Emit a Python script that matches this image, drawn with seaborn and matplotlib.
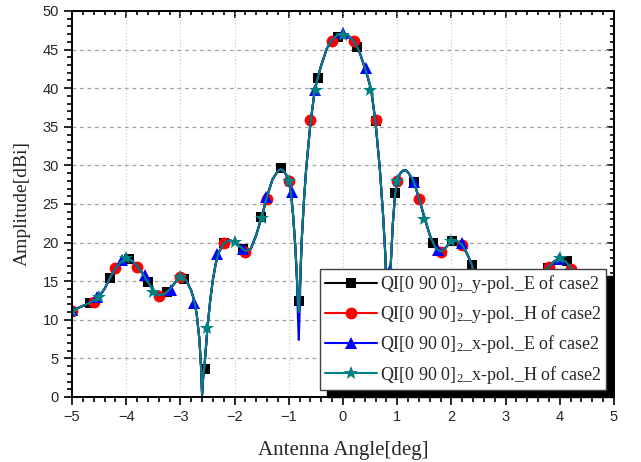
import numpy as np
import seaborn as sns
import matplotlib.pyplot as plt
from matplotlib.lines import Line2D
from matplotlib.ticker import MultipleLocator

sns.set_theme(style='white')
plt.rcParams['font.family'] = ['Liberation Sans', 'DejaVu Sans']
plt.rcParams['mathtext.default'] = 'regular'

# smooth pattern shared by the y-pol E, y-pol H and x-pol H curves
angle_line = [-5.0, -4.9, -4.8, -4.7, -4.6, -4.5, -4.4, -4.3, -4.2, -4.1, -4.0,
              -3.9, -3.8, -3.7, -3.6, -3.5, -3.4, -3.3, -3.2, -3.1, -3.0,
              -2.9, -2.8, -2.75, -2.7, -2.65, -2.62, -2.6, -2.58, -2.55, -2.5,
              -2.45, -2.4, -2.35, -2.3, -2.2, -2.1, -2.0, -1.9, -1.8, -1.7,
              -1.6, -1.5, -1.4, -1.3, -1.2, -1.15, -1.1, -1.05, -1.0, -0.96,
              -0.92, -0.88, -0.85, -0.83, -0.815, -0.8, -0.78, -0.76, -0.72, -0.68,
              -0.6, -0.52, -0.46, -0.4, -0.3, -0.2, -0.1, 0.0, 0.1, 0.2,
              0.3, 0.4, 0.45, 0.52, 0.6, 0.68, 0.74, 0.78, 0.81, 0.84,
              0.86, 0.88, 0.92, 0.96, 1.0, 1.05, 1.1, 1.15, 1.2, 1.3,
              1.4, 1.5, 1.6, 1.7, 1.8, 1.9, 2.0, 2.1, 2.2, 2.3,
              2.38, 2.45, 2.5, 2.55, 2.6, 2.62, 2.65, 2.7, 2.75, 2.8,
              2.9, 3.0, 3.1, 3.2, 3.3, 3.4, 3.5, 3.6, 3.7, 3.8,
              3.9, 4.0, 4.1, 4.2, 4.3, 4.4, 4.5, 4.6, 4.7, 4.8, 4.9, 5.0]
amp_line = [11.2, 11.5, 11.8, 12.1, 12.5, 13.0, 14.0, 15.4, 16.6, 17.5, 17.9,
            17.7, 17.0, 16.0, 14.9, 13.8, 13.2, 13.3, 13.9, 14.8, 15.5,
            15.2, 13.8, 12.6, 10.8, 7.5, 4.0, 0.3, 2.5, 4.5, 9.0,
            12.5, 15.2, 17.2, 18.6, 19.9, 20.3, 20.1, 19.5, 18.9, 19.2,
            21.0, 23.3, 26.0, 28.2, 29.3, 29.5, 29.3, 28.8, 28.0, 26.5,
            23.5, 19.5, 15.5, 12.0, 11.0, 13.0, 17.0, 20.5, 25.5, 29.5,
            35.5, 39.8, 41.5, 43.0, 45.1, 46.3, 46.9, 47.0, 46.8, 46.1,
            44.8, 42.7, 41.6, 39.8, 35.6, 29.5, 23.5, 18.5, 12.0, 3.0,
            10.0, 17.0, 22.5, 26.2, 28.0, 28.9, 29.3, 29.4, 29.1, 28.0,
            25.8, 23.3, 21.0, 19.4, 18.8, 19.4, 20.2, 20.2, 19.7, 18.4,
            17.1, 14.0, 10.5, 6.0, 0.5, 3.0, 7.0, 10.5, 12.5, 13.8,
            15.2, 15.5, 14.8, 13.9, 13.3, 13.2, 13.8, 14.9, 16.0, 16.9,
            17.6, 17.9, 17.6, 16.8, 15.6, 14.2, 13.0, 12.5, 12.1, 11.8, 11.5, 11.2]
# x-pol E has a deeper null near -0.8 deg
amp_line_xE = [11.2, 11.5, 11.8, 12.1, 12.5, 13.0, 14.0, 15.4, 16.6, 17.5, 17.9,
               17.7, 17.0, 16.0, 14.9, 13.8, 13.2, 13.3, 13.9, 14.8, 15.5,
               15.2, 13.8, 12.6, 10.8, 7.5, 4.0, 0.3, 2.5, 4.5, 9.0,
               12.5, 15.2, 17.2, 18.6, 19.9, 20.3, 20.1, 19.5, 18.9, 19.2,
               21.0, 23.3, 26.0, 28.2, 29.3, 29.5, 29.3, 28.8, 28.0, 26.5,
               23.5, 19.5, 15.0, 10.0, 7.4, 11.0, 16.5, 20.5, 25.5, 29.5,
               35.5, 39.8, 41.5, 43.0, 45.1, 46.3, 46.9, 47.0, 46.8, 46.1,
               44.8, 42.7, 41.6, 39.8, 35.6, 29.5, 23.5, 18.5, 12.0, 3.0,
               10.0, 17.0, 22.5, 26.2, 28.0, 28.9, 29.3, 29.4, 29.1, 28.0,
               25.8, 23.3, 21.0, 19.4, 18.8, 19.4, 20.2, 20.2, 19.7, 18.4,
               17.1, 14.0, 10.5, 6.0, 0.5, 3.0, 7.0, 10.5, 12.5, 13.8,
               15.2, 15.5, 14.8, 13.9, 13.3, 13.2, 13.8, 14.9, 16.0, 16.9,
               17.6, 17.9, 17.6, 16.8, 15.6, 14.2, 13.0, 12.5, 12.1, 11.8, 11.5, 11.2]

# marker samples of each series
yE_x = [-4.66, -4.30, -3.95, -3.60, -3.25, -2.93, -2.55, -2.20, -1.85, -1.51,
        -1.14, -0.81, -0.46, -0.09, 0.26, 0.60, 0.96, 1.31, 1.66, 2.02,
        2.38, 2.73, 3.08, 3.43, 3.78, 4.13, 4.48, 4.83]
yE_y = [12.2, 15.4, 17.9, 14.9, 13.6, 15.3, 3.6, 19.9, 19.2, 23.3,
        29.6, 12.4, 41.3, 46.6, 45.3, 35.8, 26.4, 27.9, 19.9, 20.2,
        17.1, 12.0, 15.3, 13.3, 16.7, 17.6, 13.0, 11.7]

yH_x = [-5.0, -4.6, -4.2, -3.8, -3.4, -3.0, -2.6, -2.2, -1.8, -1.4, -1.0, -0.6, -0.2,
        0.2, 0.6, 1.0, 1.4, 1.8, 2.2, 2.6, 3.0, 3.4, 3.8, 4.2, 4.6, 5.0]
yH_y = [11.2, 12.3, 16.7, 16.9, 13.1, 15.5, -3.0, 19.9, 18.8, 25.6, 28.0, 35.9, 46.1,
        46.1, 35.9, 28.0, 25.6, 18.8, 19.7, -3.0, 15.5, 13.2, 16.9, 16.6, 12.3, 11.2]

xE_x = [-5.0, -4.54, -4.08, -3.65, -3.17, -2.75, -2.33, -1.85, -1.42, -0.95, -0.52,
        0.0, 0.43, 0.87, 1.31, 1.75, 2.19, 2.63, 3.07, 3.51, 3.98, 4.48, 5.0]
xE_y = [11.3, 12.9, 17.7, 15.8, 13.9, 12.2, 18.5, 19.2, 25.9, 26.5, 39.8,
        47.2, 42.6, 16.5, 27.9, 19.0, 19.9, 3.0, 15.4, 13.7, 17.9, 13.0, 11.3]

xH_x = [-5.0, -4.5, -4.0, -3.5, -3.0, -2.5, -2.0, -1.5, -1.0, -0.5, 0.0,
        0.5, 1.0, 1.5, 2.0, 2.5, 3.0, 3.5, 4.0, 4.5, 5.0]
xH_y = [11.2, 13.0, 18.0, 13.6, 15.6, 8.9, 20.1, 23.2, 28.0, 39.8, 46.9,
        39.8, 28.0, 23.1, 20.2, 10.5, 15.5, 13.8, 18.0, 13.0, 11.2]

labels = ['QI[0 90 0]$_2$_y-pol._E of case2', 'QI[0 90 0]$_2$_y-pol._H of case2',
          'QI[0 90 0]$_2$_x-pol._E of case2', 'QI[0 90 0]$_2$_x-pol._H of case2']
colors = ['#000000', '#ff0000', '#0000ff', '#008080']
markers = ['s', 'o', '^', '*']
msizes = [7, 8.5, 8.5, 10]

series = [(amp_line, yE_x, yE_y), (amp_line, yH_x, yH_y),
          (amp_line_xE, xE_x, xE_y), (amp_line, xH_x, xH_y)]

fig = plt.figure(figsize=(6.41, 4.62), dpi=100)
ax = fig.add_axes([0.1123, 0.1407, 0.8456, 0.8355])

for (amp, mx, my), c, m, ms in zip(series, colors, markers, msizes):
    sns.lineplot(x=angle_line, y=amp, color=c, lw=1.5, sort=False, ax=ax,
                 estimator=None)
    ax.plot(mx, my, ls='none', marker=m, ms=ms, color=c, mec=c, mew=0)

ax.set_xlim(-5, 5)
ax.set_ylim(0, 50)
ax.xaxis.set_major_locator(MultipleLocator(1))
ax.xaxis.set_minor_locator(MultipleLocator(0.2))
ax.yaxis.set_major_locator(MultipleLocator(5))
ax.yaxis.set_minor_locator(MultipleLocator(1))

ax.grid(axis='y', which='major', ls=(0, (3, 3)), color='#a0a0a0', lw=0.9)
ax.grid(axis='x', which='major', ls=(0, (1, 2)), color='#c8c8c8', lw=0.8)

for s in ax.spines.values():
    s.set_color('black')
    s.set_linewidth(1.4)
ax.tick_params(which='both', direction='out', color='black', width=1.2,
               labelsize=10.5, bottom=True, left=True)
ax.tick_params(which='major', length=6)
ax.tick_params(which='minor', length=3.5)

top = ax.secondary_xaxis('top')
top.xaxis.set_major_locator(MultipleLocator(1))
top.xaxis.set_minor_locator(MultipleLocator(0.2))
top.tick_params(which='both', direction='in', labeltop=False, width=1.2, color='black')
top.tick_params(which='major', length=5)
top.tick_params(which='minor', length=3)
right = ax.secondary_yaxis('right')
right.yaxis.set_major_locator(MultipleLocator(5))
right.yaxis.set_minor_locator(MultipleLocator(1))
right.tick_params(which='both', direction='in', labelright=False, width=1.2, color='black')
right.tick_params(which='major', length=5)
right.tick_params(which='minor', length=3)
for sec in (top, right):
    for s in sec.spines.values():
        s.set_linewidth(1.4)

ax.set_xlabel('Antenna Angle[deg]', family='Liberation Serif', fontsize=15, labelpad=12)
ax.set_ylabel('Amplitude[dBi]', family='Liberation Serif', fontsize=14, labelpad=8)

handles = [Line2D([], [], color=c, lw=1.5, marker=m, ms=ms, mew=0)
           for c, m, ms in zip(colors, markers, msizes)]
leg = ax.legend(handles, labels, loc='lower right', bbox_to_anchor=(0.985, 0.018),
                borderaxespad=0, fancybox=False, framealpha=1, edgecolor='#404040',
                prop={'family': 'Liberation Serif', 'size': 13}, handlelength=2.9,
                handletextpad=0.15, labelspacing=0.45, borderpad=0.25,
                shadow={'ox': 5, 'oy': -5, 'color': 'black', 'alpha': 1})
leg.get_frame().set_linewidth(1.0)

fig.savefig('out.png', dpi=100)
